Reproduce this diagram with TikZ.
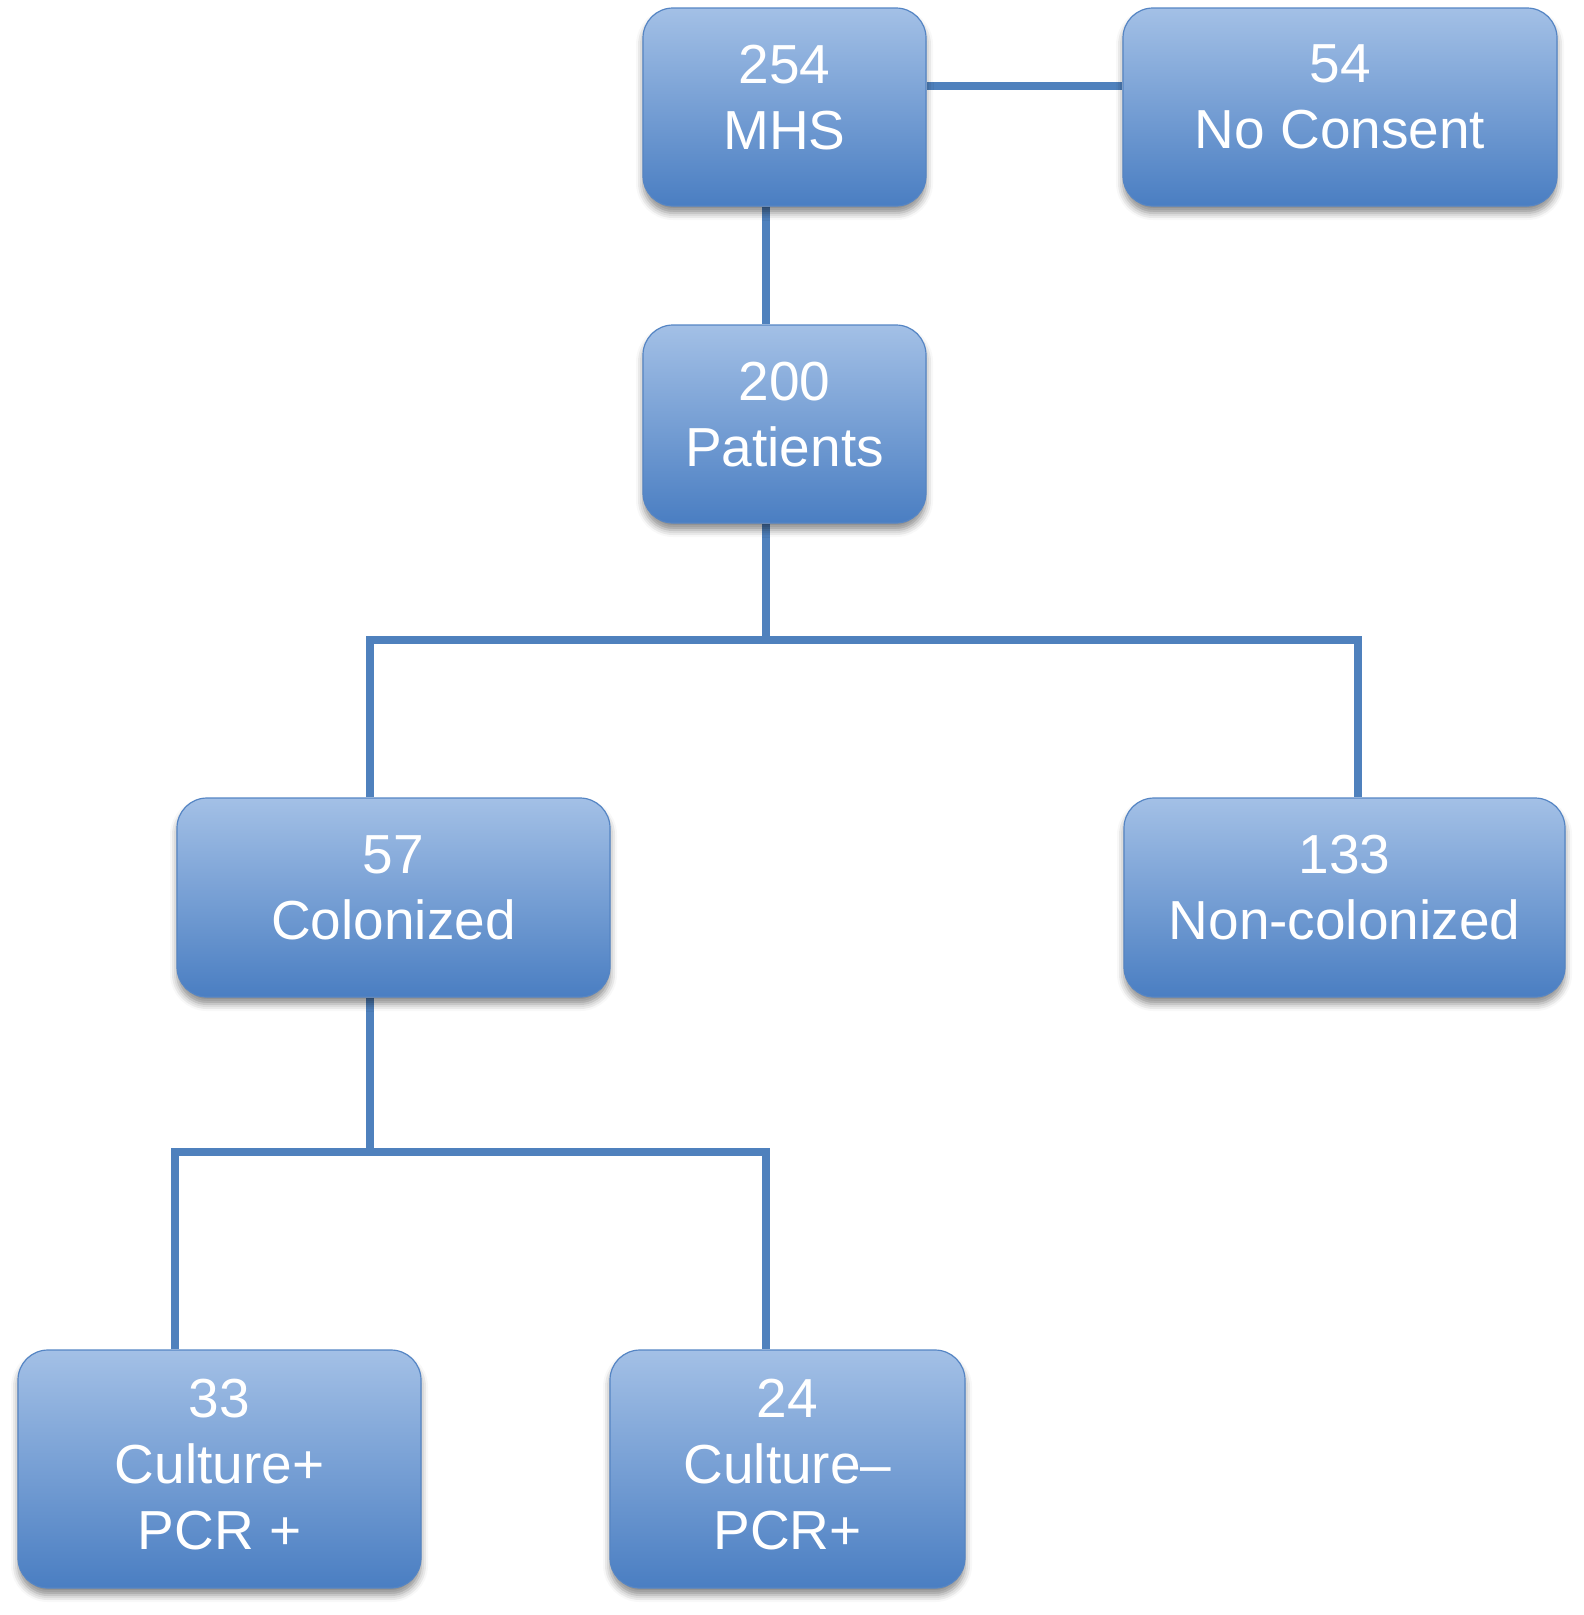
\documentclass[tikz,border=0pt]{standalone}
\usepackage{fontspec}
\setmainfont{Liberation Sans}
\usetikzlibrary{shadows.blur,backgrounds}
\definecolor{boxtop}{HTML}{A3C0E6}
\definecolor{boxbot}{HTML}{4A7EC2}
\definecolor{boxedge}{HTML}{5585C4}
\definecolor{linec}{HTML}{4F81BD}
\tikzset{
  box/.style={rectangle, rounded corners=30pt, draw=boxedge, line width=1.2pt,
    top color=boxtop, bottom color=boxbot, text=white, align=center,
    font=\fontsize{55}{66}\selectfont, inner sep=0pt, text depth=20pt,
    blur shadow={shadow xshift=0pt, shadow yshift=-7pt, shadow blur radius=7pt, shadow opacity=45}},
  conn/.style={draw=linec, line width=8pt}
}
\begin{document}
\begin{tikzpicture}[x=1pt,y=-1pt]
\useasboundingbox (0,0) rectangle (1584,1615);
\node[box, minimum width=283pt, minimum height=198pt] (mhs) at (784.5,107) {254\\MHS};
\node[box, minimum width=434pt, minimum height=198pt] (nocon) at (1340,107) {54\\No Consent};
\node[box, minimum width=283pt, minimum height=198pt] (pat) at (784.5,424) {200\\Patients};
\node[box, minimum width=433pt, minimum height=199pt] (col) at (393.5,897.5) {57\\Colonized};
\node[box, minimum width=441pt, minimum height=199pt] (non) at (1344.5,897.5) {133\\Non-colonized};
\node[box, text depth=10pt, minimum width=403pt, minimum height=238pt] (c33) at (219.5,1469) {33\\Culture+\\PCR +};
\node[box, text depth=10pt, minimum width=355pt, minimum height=238pt] (c24) at (787.5,1469) {24\\Culture--\\PCR+};
\coordinate (j1) at (766,640);
\coordinate (j1l) at (370,640);
\coordinate (j1r) at (1358,640);
\coordinate (j2) at (370,1152);
\coordinate (j2l) at (175,1152);
\coordinate (j2r) at (766,1152);
\coordinate (h1) at (0,86);
\begin{scope}[on background layer]
\draw[conn] (mhs.east |- h1) -- (nocon.west |- h1);
\draw[conn] (mhs.south -| j1) -- (pat.north -| j1);
\draw[conn] (pat.south -| j1) -- (j1);
\draw[conn] (col.north -| j1l) -- (j1l) -- (j1r) -- (non.north -| j1r);
\draw[conn] (col.south -| j2) -- (j2);
\draw[conn] (c33.north -| j2l) -- (j2l) -- (j2r) -- (c24.north -| j2r);
\end{scope}
\end{tikzpicture}
\end{document}
